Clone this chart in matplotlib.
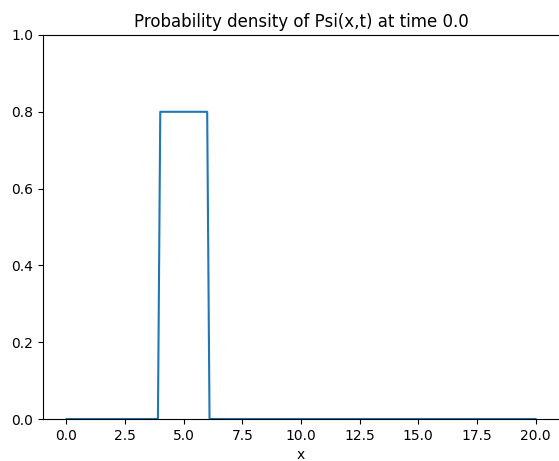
import matplotlib
matplotlib.use('Agg')
import matplotlib.pyplot as plt

# probability density |Psi(x,0)|^2 sampled on the grid
x = [0.0, 3.9, 4.0, 6.0, 6.1, 20.0]
density = [0.0, 0.0, 0.8, 0.8, 0.0, 0.0]
t = 0.0

fig = plt.figure(figsize=(5.59, 4.61), dpi=100)
ax = fig.add_axes([43 / 559, 42 / 461, 516 / 559, 384 / 461])
ax.plot(x, density)
ax.set_xlim(-1, 21)
ax.set_ylim(0, 1)
ax.set_xticks([0, 2.5, 5, 7.5, 10, 12.5, 15, 17.5, 20])
ax.set_xlabel('x')
ax.set_title('Probability density of Psi(x,t) at time {}'.format(t))
ax.spines['right'].set_visible(False)

plt.savefig('out.png', dpi=100)
